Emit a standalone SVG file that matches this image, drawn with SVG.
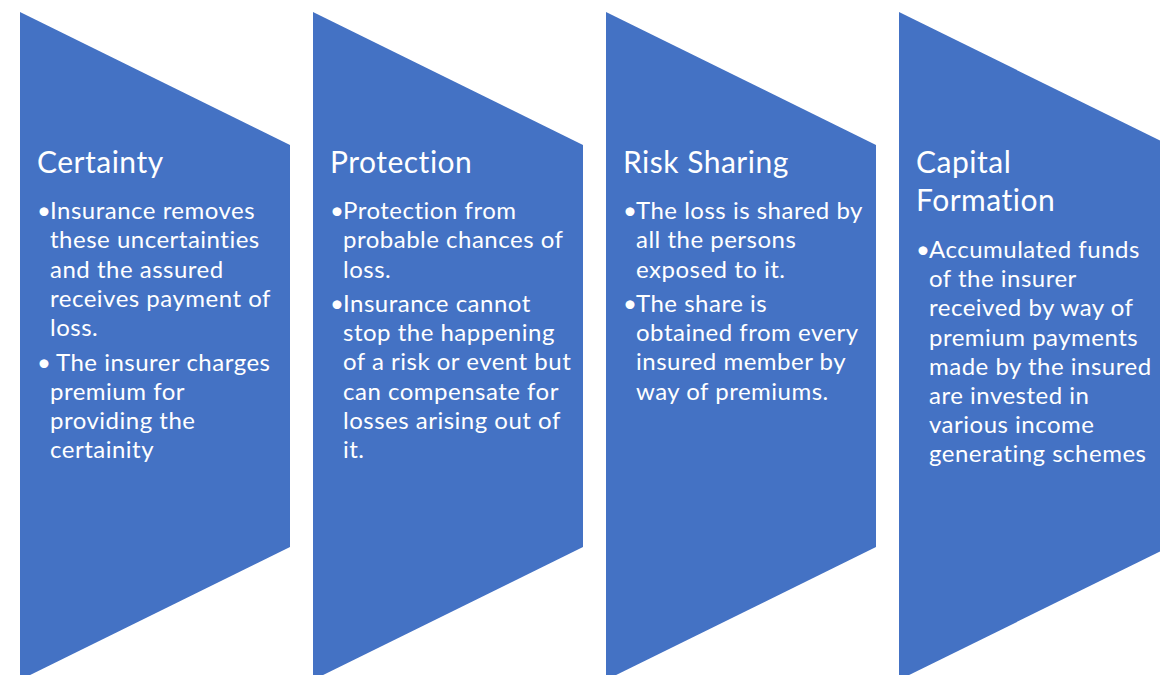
<svg xmlns="http://www.w3.org/2000/svg" width="1160" height="675" viewBox="0 0 1160 675">
  <defs>
    <!-- one chevron panel, placed four times -->
    <polygon id="panel" points="0,12 270,145 270,547 0,680"/>
  </defs>
  <style>
    .panel { fill: #4472C4; }
    .title { font-family: Lato, "Open Sans", "Liberation Sans", sans-serif; font-size: 30px; letter-spacing: 0.5px; fill: #FFFFFF; }
    .body { font-family: Lato, "Open Sans", "Liberation Sans", sans-serif; font-size: 24px; letter-spacing: 0.5px; fill: #FFFFFF; }
  </style>
  <rect width="1160" height="675" fill="#FFFFFF"/>

  <g id="certainty">
    <use href="#panel" class="panel" x="20"/>
    <text class="title" x="37" y="173">Certainty</text>
    <text class="body">
      <tspan x="37" y="219">•</tspan><tspan x="50" y="219">Insurance removes</tspan>
      <tspan x="50" y="248">these uncertainties</tspan>
      <tspan x="50" y="278">and the assured</tspan>
      <tspan x="50" y="307">receives payment of</tspan>
      <tspan x="50" y="336">loss.</tspan>
      <tspan x="37" y="371">•</tspan><tspan x="56" y="371">The insurer charges</tspan>
      <tspan x="50" y="400">premium for</tspan>
      <tspan x="50" y="429">providing the</tspan>
      <tspan x="50" y="458">certainity</tspan>
    </text>
  </g>

  <g id="protection">
    <use href="#panel" class="panel" x="313"/>
    <text class="title" x="330" y="173">Protection</text>
    <text class="body">
      <tspan x="330" y="219">•</tspan><tspan x="343" y="219">Protection from</tspan>
      <tspan x="343" y="248">probable chances of</tspan>
      <tspan x="343" y="278">loss.</tspan>
      <tspan x="330" y="312">•</tspan><tspan x="343" y="312">Insurance cannot</tspan>
      <tspan x="343" y="341">stop the happening</tspan>
      <tspan x="343" y="370">of a risk or event but</tspan>
      <tspan x="343" y="400">can compensate for</tspan>
      <tspan x="343" y="429">losses arising out of</tspan>
      <tspan x="343" y="458">it.</tspan>
    </text>
  </g>

  <g id="risk-sharing">
    <use href="#panel" class="panel" x="606"/>
    <text class="title" x="623" y="173">Risk Sharing</text>
    <text class="body">
      <tspan x="623" y="219">•</tspan><tspan x="636" y="219">The loss is shared by</tspan>
      <tspan x="636" y="248">all the persons</tspan>
      <tspan x="636" y="278">exposed to it.</tspan>
      <tspan x="623" y="312">•</tspan><tspan x="636" y="312">The share is</tspan>
      <tspan x="636" y="341">obtained from every</tspan>
      <tspan x="636" y="370">insured member by</tspan>
      <tspan x="636" y="400">way of premiums.</tspan>
    </text>
  </g>

  <g id="capital-formation">
    <use href="#panel" class="panel" x="899"/>
    <text class="title">
      <tspan x="916" y="173">Capital</tspan>
      <tspan x="916" y="211">Formation</tspan>
    </text>
    <text class="body">
      <tspan x="916" y="258">•</tspan><tspan x="929" y="258">Accumulated funds</tspan>
      <tspan x="929" y="287">of the insurer</tspan>
      <tspan x="929" y="316">received by way of</tspan>
      <tspan x="929" y="346">premium payments</tspan>
      <tspan x="929" y="375">made by the insured</tspan>
      <tspan x="929" y="404">are invested in</tspan>
      <tspan x="929" y="433">various income</tspan>
      <tspan x="929" y="462">generating schemes</tspan>
    </text>
  </g>

  <g id="connectors"/>
</svg>
